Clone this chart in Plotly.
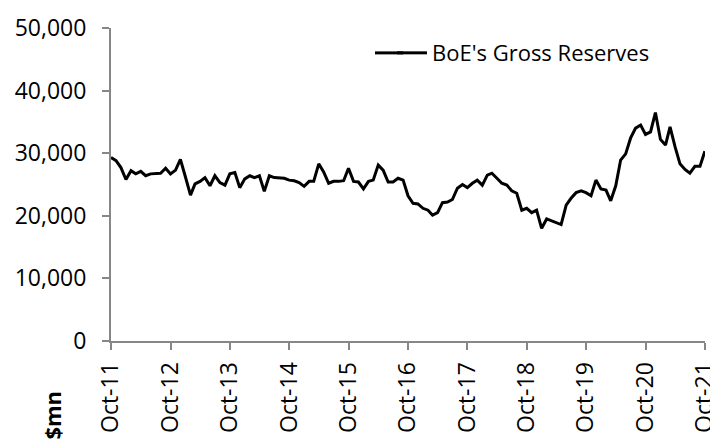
import plotly.graph_objects as go
import pandas as pd

series_name = "BoE's Gross Reserves"
dates = pd.date_range("2011-10-01", "2021-10-01", freq="MS")

reserves = [
    29300, 28800, 27700, 25800, 27200, 26700, 27100, 26400, 26700, 26800, 26800, 27600,
    26700, 27300, 29000, 26200, 23300, 25100, 25500, 26100, 24800, 26400, 25300, 24900,
    26700, 26900, 24500, 25900, 26400, 26100, 26400, 23900, 26400, 26100, 26100, 26000,
    25700, 25600, 25300, 24700, 25500, 25500, 28300, 27000, 25200, 25500, 25500, 25600,
    27600, 25500, 25400, 24300, 25500, 25700, 28100, 27300, 25400, 25400, 26000, 25700,
    23200, 22000, 21900, 21200, 20900, 20100, 20500, 22100, 22200, 22600, 24400, 25000,
    24500, 25200, 25700, 24900, 26500, 26800, 26000, 25200, 24900, 24000, 23600, 20900,
    21200, 20500, 20900, 18000, 19500, 19200, 18900, 18600, 21700, 22800, 23700, 24000,
    23700, 23200, 25700, 24300, 24100, 22400, 24800, 28900, 29900, 32400, 34000, 34500,
    33000, 33400, 36500, 32200, 31300, 34200, 31000, 28300, 27400, 26800, 27900, 27900,
    30300,
]

tick_dates = ["2011-10-01", "2012-10-01", "2013-10-01", "2014-10-01", "2015-10-01",
              "2016-10-01", "2017-10-01", "2018-10-01", "2019-10-01", "2020-10-01",
              "2021-10-01"]
tick_labels = ["Oct-11", "Oct-12", "Oct-13", "Oct-14", "Oct-15", "Oct-16",
               "Oct-17", "Oct-18", "Oct-19", "Oct-20", "Oct-21"]
y_ticks = [0, 10000, 20000, 30000, 40000, 50000]
unit_label = "$mn"

FONT = "Open Sans"
AXIS_COLOR = "#878787"

fig = go.Figure()
fig.add_trace(go.Scatter(
    x=dates, y=reserves, mode="lines", name=series_name,
    line=dict(color="black", width=3),
))

fig.update_layout(
    width=718, height=439,
    margin=dict(l=103, r=21, t=20, b=106, autoexpand=False),
    plot_bgcolor="white", paper_bgcolor="white",
    font=dict(family=FONT, color="black", size=22),
    showlegend=True,
    legend=dict(
        x=0.473, y=0.92, xanchor="left", yanchor="middle",
        font=dict(family=FONT, size=22, color="black"),
        bgcolor="rgba(0,0,0,0)",
    ),
    xaxis=dict(
        range=["2011-10-01", "2021-10-02"],
        tickvals=tick_dates, ticktext=tick_labels,
        tickangle=-90,
        automargin=False,
        showgrid=False, zeroline=False,
        showline=True, linecolor=AXIS_COLOR, linewidth=2,
        ticks="outside", ticklen=7, tickwidth=2, tickcolor=AXIS_COLOR,
        tickfont=dict(family=FONT, size=23, color="black"),
        ticklabelstandoff=3,
    ),
    yaxis=dict(
        range=[0, 50000],
        tickvals=y_ticks, tickformat=",d",
        automargin=False,
        showgrid=False, zeroline=False,
        showline=True, linecolor=AXIS_COLOR, linewidth=2,
        ticks="outside", ticklen=7, tickwidth=2, tickcolor=AXIS_COLOR,
        tickfont=dict(family=FONT, size=23, color="black"),
        ticklabelstandoff=11,
    ),
    shapes=[dict(
        # extends the legend's line glyph to the reference's longer sample
        type="line", xref="paper", yref="paper",
        x0=0.4444, x1=0.492, y0=0.9205, y1=0.9205,
        line=dict(color="black", width=3),
    )],
    annotations=[dict(
        text="<b>" + unit_label + "</b>", xref="paper", yref="paper",
        x=-0.0998, y=-0.236, xanchor="center", yanchor="middle",
        textangle=-90, showarrow=False,
        font=dict(family=FONT, size=22, color="black"),
    )],
)

fig.write_html("out.html")
